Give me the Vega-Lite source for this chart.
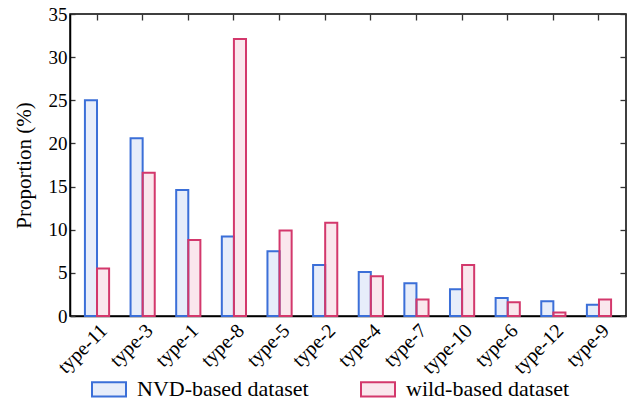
{
  "$schema": "https://vega.github.io/schema/vega-lite/v6.json",
  "width": 556,
  "height": 302,
  "autosize": {"type": "none"},
  "padding": {"left": 70, "top": 14, "right": 5, "bottom": 89},
  "background": "white",
  "config": {
    "font": "Liberation Serif",
    "view": {"stroke": "black", "strokeWidth": 1.5},
    "axis": {"labelFont": "Liberation Serif", "titleFont": "Liberation Serif", "labelColor": "black", "titleColor": "black", "grid": false, "domainColor": "black", "domainWidth": 1.5, "tickColor": "#333", "tickWidth": 1.3},
    "legend": {"labelFont": "Liberation Serif"}
  },
  "data": {
    "values": [
      {"type": "type-11", "dataset": "NVD-based dataset", "value": 25.0},
      {"type": "type-11", "dataset": "wild-based dataset", "value": 5.5},
      {"type": "type-3", "dataset": "NVD-based dataset", "value": 20.6},
      {"type": "type-3", "dataset": "wild-based dataset", "value": 16.6},
      {"type": "type-1", "dataset": "NVD-based dataset", "value": 14.6},
      {"type": "type-1", "dataset": "wild-based dataset", "value": 8.8},
      {"type": "type-8", "dataset": "NVD-based dataset", "value": 9.2},
      {"type": "type-8", "dataset": "wild-based dataset", "value": 32.1},
      {"type": "type-5", "dataset": "NVD-based dataset", "value": 7.5},
      {"type": "type-5", "dataset": "wild-based dataset", "value": 9.9},
      {"type": "type-2", "dataset": "NVD-based dataset", "value": 5.9},
      {"type": "type-2", "dataset": "wild-based dataset", "value": 10.8},
      {"type": "type-4", "dataset": "NVD-based dataset", "value": 5.1},
      {"type": "type-4", "dataset": "wild-based dataset", "value": 4.6},
      {"type": "type-7", "dataset": "NVD-based dataset", "value": 3.8},
      {"type": "type-7", "dataset": "wild-based dataset", "value": 1.9},
      {"type": "type-10", "dataset": "NVD-based dataset", "value": 3.1},
      {"type": "type-10", "dataset": "wild-based dataset", "value": 5.9},
      {"type": "type-6", "dataset": "NVD-based dataset", "value": 2.1},
      {"type": "type-6", "dataset": "wild-based dataset", "value": 1.6},
      {"type": "type-12", "dataset": "NVD-based dataset", "value": 1.7},
      {"type": "type-12", "dataset": "wild-based dataset", "value": 0.4},
      {"type": "type-9", "dataset": "NVD-based dataset", "value": 1.3},
      {"type": "type-9", "dataset": "wild-based dataset", "value": 1.9}
    ]
  },
  "layer": [
    {
      "mark": {"type": "bar", "fillOpacity": 0.12, "strokeWidth": 2},
      "encoding": {
        "x": {
          "field": "type", "type": "nominal", "sort": null,
          "scale": {"paddingInner": 0.47, "paddingOuter": 0.327},
          "axis": {"title": null, "labelAngle": -45, "labelFontSize": 20, "labelPadding": 4, "ticks": false, "domainWidth": 1.5}
        },
        "xOffset": {"field": "dataset", "type": "nominal", "scale": {"paddingInner": 0, "paddingOuter": 0}},
        "y": {
          "field": "value", "type": "quantitative",
          "scale": {"domain": [0, 35], "nice": false},
          "axis": {"title": "Proportion (%)", "titleFontSize": 21, "titleFontWeight": "normal", "titlePadding": 14, "labelFontSize": 19, "values": [0, 5, 10, 15, 20, 25, 30, 35], "tickSize": -5, "labelPadding": 8}
        },
        "fill": {
          "field": "dataset", "type": "nominal",
          "scale": {"domain": ["NVD-based dataset", "wild-based dataset"], "range": ["#3b6fd8", "#d3386c"]},
          "legend": {
            "title": null, "orient": "none", "direction": "horizontal",
            "legendX": 21, "legendY": 357, "padding": 0,
            "labelFontSize": 22, "labelColor": "black", "labelOffset": 10, "labelLimit": 400,
            "symbolType": "M-1,-0.42H1V0.42H-1Z", "symbolSize": 1156, "symbolStrokeWidth": 2,
            "columnPadding": 48,
            "encode": {"symbols": {"update": {"fillOpacity": {"value": 0.12}, "strokeOpacity": {"value": 1}}}}
          }
        },
        "stroke": {
          "field": "dataset", "type": "nominal",
          "scale": {"domain": ["NVD-based dataset", "wild-based dataset"], "range": ["#3b6fd8", "#d3386c"]},
          "legend": null
        }
      }
    },
    {
      "mark": {"type": "bar", "opacity": 0},
      "encoding": {
        "x": {
          "field": "type", "type": "nominal", "sort": null,
          "axis": {"orient": "top", "title": null, "labels": false, "domain": false, "tickSize": -6}
        },
        "xOffset": {"field": "dataset", "type": "nominal"},
        "y": {
          "field": "value", "type": "quantitative",
          "axis": {"orient": "right", "title": null, "labels": false, "domain": false, "tickSize": -6, "values": [0, 5, 10, 15, 20, 25, 30, 35]}
        }
      }
    }
  ],
  "resolve": {"axis": {"x": "independent", "y": "independent"}}
}
